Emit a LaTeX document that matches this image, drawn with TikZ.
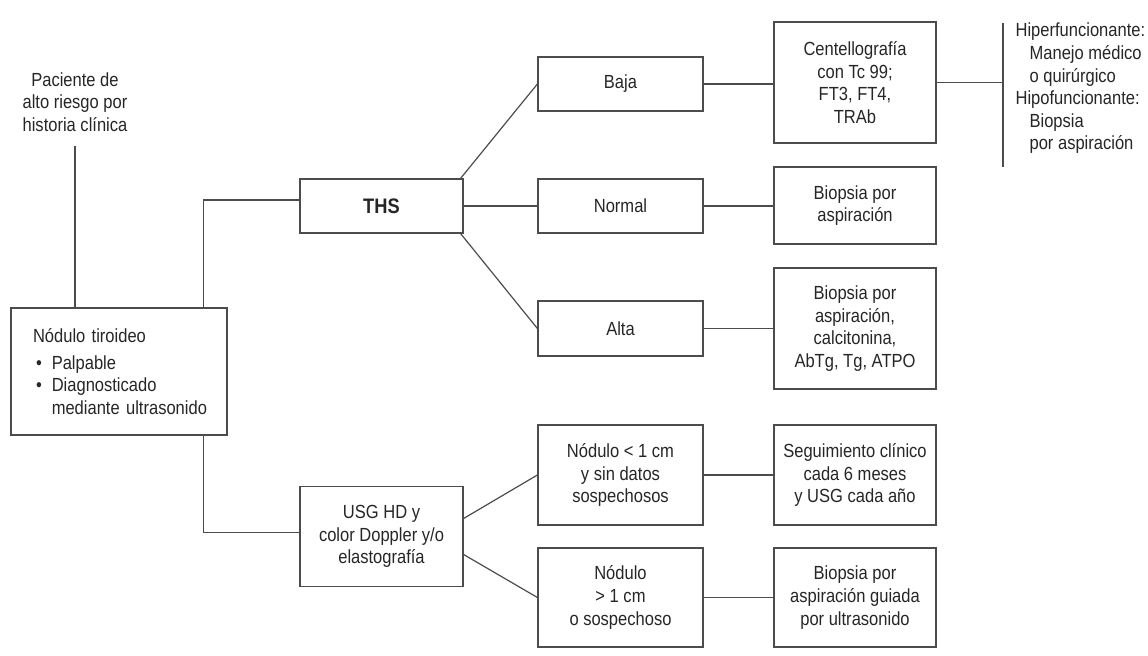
\documentclass[tikz,border=0pt]{standalone}
\usepackage{fontspec}
\setmainfont[FakeStretch=0.87]{Liberation Sans}
\usepackage{tikz}
\usetikzlibrary{positioning}
\newcommand{\fsz}{\fontsize{9.5}{11.3}\selectfont}
\newcommand{\bul}{\hspace*{1.5pt}\textbullet\hspace{5pt}}
\tikzstyle{flow box}=[draw=black!70, line width=0.6pt, align=center, inner sep=0pt, text=black!85, font=\fsz]
\tikzstyle{flow edge}=[-, draw=black!70, line width=0.6pt]
\tikzstyle{col two}=[minimum width=81.5pt]
\tikzstyle{col three}=[minimum width=82.5pt]
\tikzstyle{col four}=[minimum width=81pt]
\newcommand{\flownode}[3][]{
  \node [flow box, #1] (#2) {#3}
}

\begin{document}
\begin{tikzpicture}[x=0.5pt,y=-0.5pt]
        \useasboundingbox (0,0) rectangle (1148,656);
        % start
        \flownode[draw=none, inner ysep=7pt, at={(75,102)}]{pac}{Paciente de\\alto riesgo por\\historia clínica};
        \flownode[align=left, text width=86pt, inner xsep=11pt, minimum height=63.5pt, at={(119,371.5)}]{nod}{Nódulo tiroideo\\[2pt]\bul Palpable\\\bul Diagnosticado\\\mbox{\hphantom{\bul}mediante ultrasonido}};

        % studies
        \flownode[col two, minimum height=27pt, font=\fontsize{10.5}{12}\selectfont\bfseries, at={(381.5,206)}]{ths}{THS};
        \flownode[col two, minimum height=50pt, at={(381.5,536.5)}]{usg}{USG HD y\\color Doppler y/o\\elastografía};

        % results
        \flownode[col three, minimum height=27pt, at={(620.5,84)}]{baja}{Baja};
        \flownode[col three, minimum height=27pt, at={(620.5,206)}]{normal}{Normal};
        \flownode[col three, minimum height=27.5pt, at={(620.5,328.5)}]{alta}{Alta};
        \flownode[col three, minimum height=50pt, at={(620.5,475)}]{nlow}{Nódulo < 1 cm\\y sin datos\\sospechosos};
        \flownode[col three, minimum height=49.5pt, at={(620.5,597.5)}]{nhigh}{Nódulo\\> 1 cm\\o sospechoso};

        % actions
        \flownode[col four, minimum height=60.5pt, at={(855,82.5)}]{centel}{Centellografía\\con Tc 99;\\FT3, FT4,\\TRAb};
        \flownode[col four, minimum height=38.5pt, at={(855,205.5)}]{bnormal}{Biopsia por\\aspiración};
        \flownode[col four, minimum height=60.5pt, at={(855,328.5)}]{balta}{Biopsia por\\aspiración,\\calcitonina,\\AbTg, Tg, ATPO};
        \flownode[col four, minimum height=50pt, at={(855,475)}]{seg}{Seguimiento clínico\\cada 6 meses\\y USG cada año};
        \flownode[col four, minimum height=49.5pt, at={(855,597.5)}]{bguia}{Biopsia por\\aspiración guiada\\por ultrasonido};

        % bracket on the right
        \coordinate (brk) at (1003,82.5);
        \coordinate (brktop) at (1003,23);
        \coordinate (brkbot) at (1003,167);
        \flownode[draw=none, align=left, anchor=west, at={(1015,88.5)}]{func}{Hiperfuncionante:\\\hspace*{7pt}Manejo médico\\\hspace*{7pt}o quirúrgico\\Hipofuncionante:\\\hspace*{7pt}Biopsia\\\hspace*{7pt}por aspiración};

      \draw[flow edge] (pac.south) -- (pac.south |- nod.north);
      \draw[flow edge] ([xshift=-12pt]nod.north east) |- ([yshift=3pt]ths.west);
      \draw[flow edge] ([xshift=-12pt]nod.south east) |- ([yshift=2pt]usg.west);

      \draw[flow edge] ([xshift=-1.5pt]ths.north east) -- (baja.west);
      \draw[flow edge] (ths.east) -- (normal.west);
      \draw[flow edge] ([xshift=-1.5pt]ths.south east) -- (alta.west);
      \draw[flow edge] ([yshift=9pt]usg.east) -- (nlow.west);
      \draw[flow edge] ([yshift=-9pt]usg.east) -- (nhigh.west);

      \draw[flow edge] (baja.east) -- (baja.east -| centel.west);
      \draw[flow edge] (normal.east) -- (normal.east -| bnormal.west);
      \draw[flow edge] (alta.east) -- (alta.east -| balta.west);
      \draw[flow edge] (nlow.east) -- (nlow.east -| seg.west);
      \draw[flow edge] (nhigh.east) -- (nhigh.east -| bguia.west);

      \draw[flow edge] (centel.east) -- (brk);
      \draw[flow edge] (brktop) -- (brkbot);
      \end{tikzpicture}
\end{document}
